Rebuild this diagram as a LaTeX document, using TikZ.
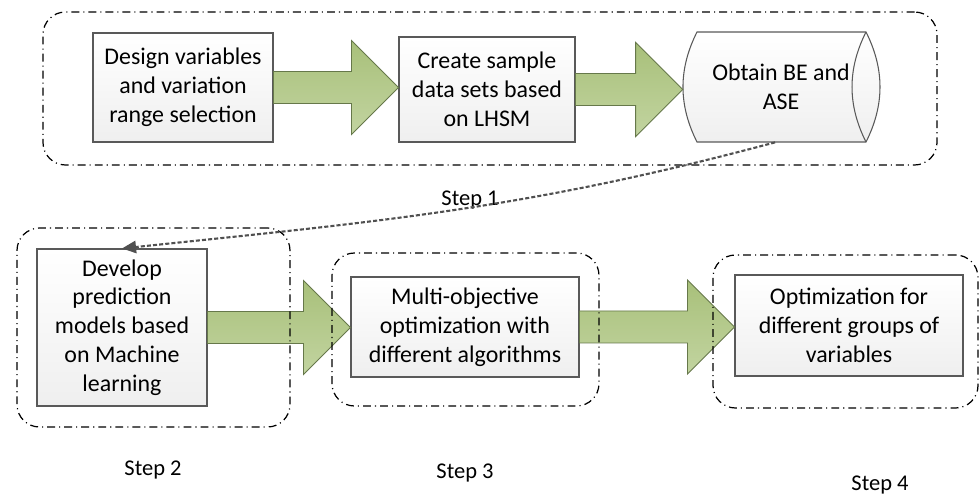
\documentclass[tikz,border=0pt]{standalone}
\usepackage{fontspec}
\setmainfont{Carlito}
\usepackage{tikz}
\usetikzlibrary{calc,arrows.meta,backgrounds}

\definecolor{boxtop}{HTML}{FFFFFF}
\definecolor{boxbot}{HTML}{EFEFEF}
\definecolor{boxline}{HTML}{595959}
\definecolor{greentop}{HTML}{A8C07A}
\definecolor{greenbot}{HTML}{C2D4A0}
\definecolor{greenline}{HTML}{66784A}
\definecolor{linkgray}{HTML}{505050}

% block arrow from the east side of #1 to the west side of #2
\newcommand{\blockarrow}[2]{%
  \path[greenarrow] ($(#1.east)+(0,0.32)$) -- ($(#2.west |- #1.east)+(-0.94,0.32)$)
    -- ($(#2.west |- #1.east)+(-0.94,0.94)$) -- (#2.west |- #1.east)
    -- ($(#2.west |- #1.east)+(-0.94,-0.94)$) -- ($(#2.west |- #1.east)+(-0.94,-0.32)$)
    -- ($(#1.east)+(0,-0.32)$) -- cycle;}

\begin{document}
\begin{tikzpicture}[
    font=\fontsize{13.6}{16.4}\selectfont,
    stepbox/.style={draw=boxline,line width=0.6pt,top color=boxtop,bottom color=boxbot,
      align=center,inner sep=2pt},
    greenarrow/.style={draw=greenline,line width=0.5pt,top color=greentop,bottom color=greenbot},
    group/.style={draw=black,line width=0.7pt,rounded corners=0.45cm,
      dash pattern=on 4.5pt off 2.3pt on 0.6pt off 2.3pt},
    steplabel/.style={font=\fontsize{12.8}{15}\selectfont}
  ]
    \useasboundingbox (0,0) rectangle (19.6,9.9);

    % step 1
    \node[stepbox,minimum width=3.6cm,minimum height=2.18cm] (b1) at (3.66,8.15)
      {Design variables\\and variation\\range selection};
    \node[stepbox,minimum width=3.52cm,minimum height=2.1cm] (b2) at (9.74,8.11)
      {Create sample\\data sets based\\on LHSM};
    \node[align=center,minimum width=3.92cm,minimum height=2.2cm] (b3) at (15.62,8.16)
      {Obtain BE and\\ASE};
    \begin{scope}[on background layer,shift={(b3.center)}]
        \draw[boxline,line width=0.6pt,top color=boxtop,bottom color=boxbot]
          (-1.68,1.1) .. controls (-2.054,0.36) and (-2.054,-0.36) .. (-1.68,-1.1)
          -- (1.7,-1.1) .. controls (2.073,-0.36) and (2.073,0.36) .. (1.7,1.1) -- cycle;
        \draw[boxline,line width=0.6pt]
          (1.7,1.1) .. controls (1.327,0.36) and (1.327,-0.36) .. (1.7,-1.1);
    \end{scope}

    % steps 2 to 4
    \node[stepbox,minimum width=3.4cm,minimum height=3.14cm] (b4) at (2.44,3.35)
      {Develop\\prediction\\models based\\on Machine\\learning};
    \node[stepbox,minimum width=4.56cm,minimum height=2cm] (b5) at (9.3,3.36)
      {Multi-objective\\optimization with\\different algorithms};
    \node[stepbox,minimum width=4.56cm,minimum height=2.02cm] (b6) at (16.98,3.39)
      {Optimization for\\different groups of\\variables};

    \blockarrow{b1}{b2}
    \blockarrow{b2}{b3}
    \blockarrow{b4}{b5}
    \blockarrow{b5}{b6}

    % dash-dot frames
    \node[group,minimum width=17.88cm,minimum height=3.06cm] (g1) at (9.8,8.13) {};
    \node[group,minimum width=5.46cm,minimum height=3.98cm] (g2) at (3.07,3.35) {};
    \node[group,minimum width=5.34cm,minimum height=3.06cm] (g3) at (9.31,3.31) {};
    \node[group,minimum width=5.3cm,minimum height=3.06cm] (g4) at (16.91,3.27) {};

    \node[steplabel] (s1) at (9.4,5.9) {Step 1};
    \node[steplabel] (s2) at (3.06,0.5) {Step 2};
    \node[steplabel] (s3) at (9.3,0.44) {Step 3};
    \node[steplabel] (s4) at (17.6,0.2) {Step 4};

    \draw[linkgray,line width=1.2pt,dash pattern=on 2.3pt off 1.2pt,
      -{Triangle[length=8pt,width=7pt]}]
      ($(b3.south west)!0.47!(b3.south east)$) to[out=195,in=6] (b4.north);
\end{tikzpicture}
\end{document}
